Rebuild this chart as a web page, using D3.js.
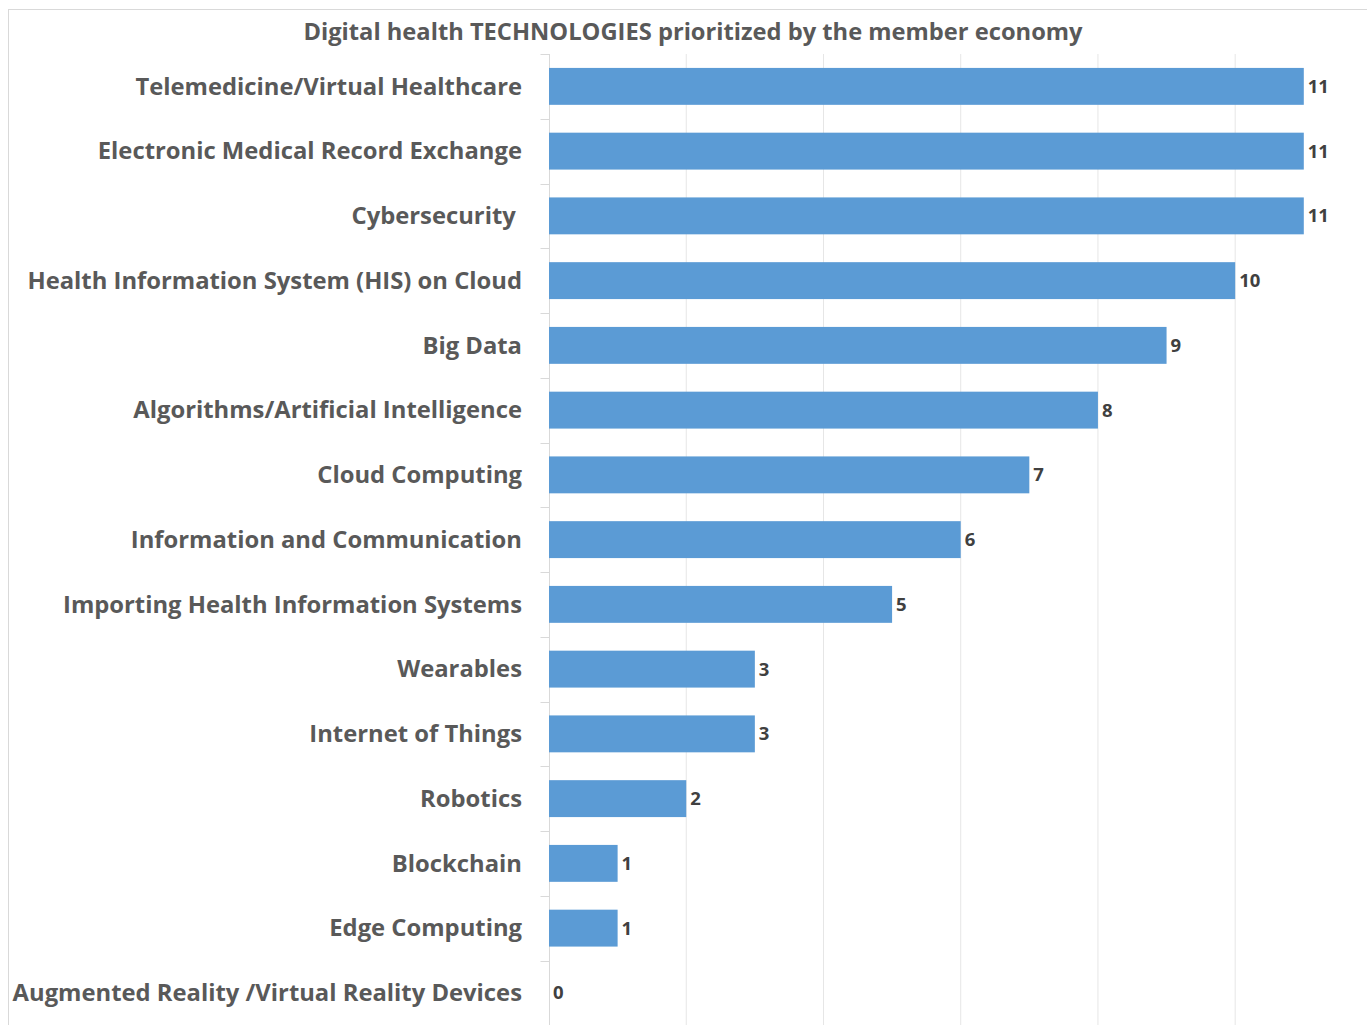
<!DOCTYPE html>
<html><head><meta charset="utf-8">
<script src="https://cdn.jsdelivr.net/npm/d3@7"></script>
<style>body{margin:0;background:#fff}svg{display:block}text{white-space:pre}</style>
</head><body>
<script>
const categories = ["Telemedicine/Virtual Healthcare","Electronic Medical Record Exchange","Cybersecurity ","Health Information System (HIS) on Cloud","Big Data","Algorithms/Artificial Intelligence","Cloud Computing","Information and Communication","Importing Health Information Systems","Wearables","Internet of Things","Robotics","Blockchain","Edge Computing","Augmented Reality /Virtual Reality Devices"];
const values = [11,11,11,10,9,8,7,6,5,3,3,2,1,1,0];
const xTicks = [0,2,4,6,8,10];
const title = "Digital health TECHNOLOGIES prioritized by the member economy";

const W = 1367, H = 1025;
const svg = d3.select("body").append("svg").attr("width", W).attr("height", H);
svg.append("rect").attr("x",8.5).attr("y",9.5).attr("width",W).attr("height",H).attr("fill","#fff").attr("stroke","#d9d9d9");

const x = d3.scaleLinear().domain([0,11]).range([549,1303.8]);
const y = d3.scaleBand().domain(categories).range([54, 54+64.75*15]).paddingInner(0.43).paddingOuter(0.215);
const font = "'Open Sans', sans-serif";

// gridlines
svg.append("g").selectAll("line").data(xTicks.slice(1)).join("line")
  .attr("x1",d=>x(d)).attr("x2",d=>x(d)).attr("y1",54).attr("y2",H)
  .attr("stroke","#e6e6e6").attr("stroke-width",1);

// y axis
const yAxis = svg.append("g").attr("transform","translate(549.5,0)");
yAxis.append("line").attr("x1",0).attr("x2",0).attr("y1",54).attr("y2",H).attr("stroke","#d9d9d9");
const bounds = d3.range(0,16).map(i=>54+64.75*i);
yAxis.selectAll("line.t").data(bounds).join("line").attr("class","t")
  .attr("x1",-9).attr("x2",0).attr("y1",d=>Math.round(d)+0.5).attr("y2",d=>Math.round(d)+0.5).attr("stroke","#d9d9d9");

// bars
svg.append("g").selectAll("rect").data(values).join("rect")
  .attr("x",x(0)).attr("y",(d,i)=>y(categories[i]))
  .attr("width",d=>x(d)-x(0)).attr("height",y.bandwidth())
  .attr("fill","#5b9bd5");

// category labels
svg.append("g").selectAll("text").data(categories).join("text")
  .attr("x",522).attr("y",d=>y(d)+y.bandwidth()/2).attr("dy","0.35em")
  .attr("text-anchor","end").attr("font-family",font).attr("font-weight",700)
  .attr("font-size",23.8).attr("fill","#595959").text(d=>d);

// value labels
svg.append("g").selectAll("text").data(values).join("text")
  .attr("x",d=>x(d)+4).attr("y",(d,i)=>y(categories[i])+y.bandwidth()/2).attr("dy","0.35em")
  .attr("font-family",font).attr("font-weight",700).attr("font-size",18.5)
  .attr("fill","#404040").text(d=>d);

// title
svg.append("text").attr("x",693).attr("y",32).attr("dy","0.35em").attr("text-anchor","middle")
  .attr("font-family",font).attr("font-weight",700).attr("font-size",23.7).attr("fill","#595959").text(title);
</script>
</body></html>
